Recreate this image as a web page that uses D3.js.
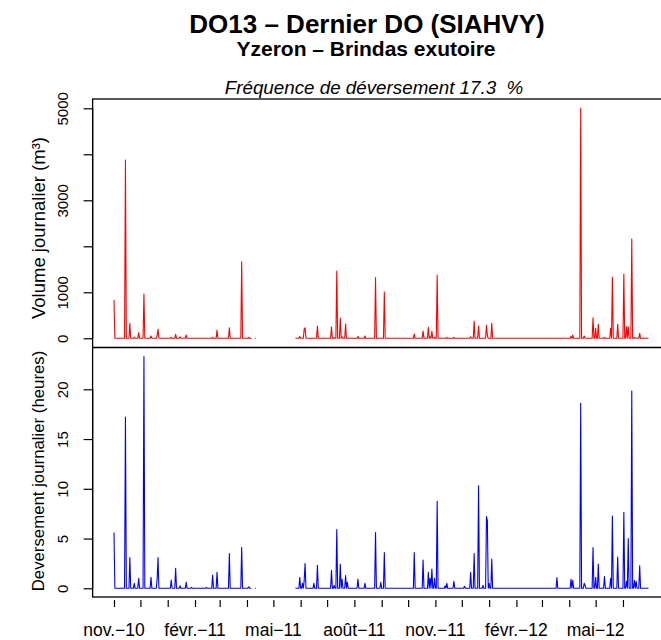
<!DOCTYPE html>
<html>
<head>
<meta charset="utf-8">
<script src="https://cdn.jsdelivr.net/npm/d3@7"></script>
<style>
  html, body { margin: 0; padding: 0; background: #fff; }
  svg { display: block; font-family: "Liberation Sans", Arial, Helvetica, sans-serif; }
</style>
</head>
<body>
<svg id="chart" width="661" height="640"></svg>
<script>
// ---------- DATA ----------
const seriesStart = "2010-11-01";
const seriesEnd   = "2012-06-30";
// periods without measurements (NA)
const missingFrom = ["2011-04-07", "2011-04-12"];
const missingTo   = ["2011-04-09", "2011-05-25"];
// days with overflow (all other days are 0)
const eventDates = [
  "2010-11-01","2010-11-14","2010-11-19","2010-11-24","2010-11-29","2010-12-05","2010-12-13","2010-12-20","2010-12-21",
  "2011-01-05","2011-01-10","2011-01-15","2011-01-22","2011-01-28","2011-02-14","2011-02-21","2011-02-26","2011-03-12",
  "2011-03-26","2011-04-03",
  "2011-05-31","2011-06-03","2011-06-05","2011-06-06","2011-06-16","2011-06-20","2011-07-06","2011-07-09","2011-07-12",
  "2011-07-16","2011-07-18","2011-07-22","2011-07-24","2011-08-05","2011-08-13","2011-08-25","2011-08-31","2011-09-04",
  "2011-10-08","2011-10-18","2011-10-24","2011-10-26","2011-10-28","2011-10-31","2011-11-03","2011-11-12","2011-11-14",
  "2011-11-22","2011-12-04","2011-12-11","2011-12-15","2011-12-20","2011-12-25","2011-12-29","2011-12-30","2012-01-01",
  "2012-01-04","2012-03-18","2012-04-03","2012-04-05","2012-04-14","2012-04-18","2012-04-19","2012-04-28","2012-05-01",
  "2012-05-04","2012-05-11","2012-05-18","2012-05-20","2012-05-26","2012-06-02","2012-06-05","2012-06-07","2012-06-11",
  "2012-06-14","2012-06-16","2012-06-20"
];
// daily volume (m3)
const volumeValues = [
  830,3876,326,20,122,963,50,60,195,
  20,87,30,72,0,0,20,180,230,
  1665,20,
  40,0,200,230,0,267,252,10,1463,
  441,30,311,0,40,50,1318,0,1007,
  93,159,239,30,152,20,1376,0,20,
  20,0,30,376,267,0,282,60,0,
  326,0,40,72,5000,50,0,448,217,
  304,20,217,1326,304,1398,252,252,2159,
  20,0,109
];
// daily overflow duration (hours)
const hoursValues = [
  5.6,17.2,3.1,0.5,1.0,23.3,1.1,0.9,3.1,
  0.83,2.0,0.25,0.6,0.1,0.1,1.34,1.6,3.5,
  4.1,0.15,
  1.1,0.5,0.8,2.5,0.5,2.3,1.8,0.3,5.9,
  2.44,0.9,1.27,0.6,0.93,0.5,5.6,0.6,3.6,
  3.6,2.84,1.6,1.0,1.94,1.0,8.74,0.25,0.5,
  0.7,0.2,1.6,3.5,10.3,0.3,7.2,6.8,0.5,
  2.94,1.07,0.9,0.8,18.6,0.5,0.3,4.1,1.1,
  2.44,1.17,1.0,7.27,3.15,7.64,0.7,5.0,19.83,
  0.8,0.7,2.27
];
const volumeTicks = [0, 1000, 2000, 3000, 4000, 5000];
const volumeTickLabels = ["0", "1000", "", "3000", "", "5000"];
const hoursTicks = [0, 5, 10, 15, 20];
const monthLabels = ["janv.","févr.","mars","avr.","mai","juin","juil.","août","sept.","oct.","nov.","déc."];
const labelledMonths = [1, 4, 7, 10]; // févr., mai, août, nov.

const titleText = "DO13 \u2013 Dernier DO (SIAHVY)";
const subtitleText = "Yzeron \u2013 Brindas exutoire";
const freqText = "Fréquence de déversement 17.3  %";
const yLabelTop = "Volume journalier (m³)";
const yLabelBottom = "Deversement journalier (heures)";

// ---------- BUILD DAILY SERIES ----------
const parse = d3.utcParse("%Y-%m-%d");
const t0 = parse(seriesStart), t1 = parse(seriesEnd);
const days = d3.utcDay.range(t0, d3.utcDay.offset(t1, 1));
const evMap = new Map(eventDates.map((d, i) => [d, i]));
const fmt = d3.utcFormat("%Y-%m-%d");
const gaps = missingFrom.map((d, i) => [parse(d), parse(missingTo[i])]);
const daily = days.map(d => {
  const key = fmt(d);
  const missing = gaps.some(g => d >= g[0] && d <= g[1]);
  const i = evMap.get(key);
  return {
    date: d,
    vol: missing ? null : (i !== undefined ? volumeValues[i] : 0),
    hrs: missing ? null : (i !== undefined ? hoursValues[i] : 0)
  };
});

// ---------- LAYOUT ----------
const svg = d3.select("#chart");
const dataLeft = 114, dataRight = 648.5;
const padX = (dataRight - dataLeft) * 0.04;
const boxLeft = dataLeft - padX, boxRight = dataRight + padX;

const x = d3.scaleUtc().domain([t0, t1]).range([dataLeft, dataRight]);

const topBox = { y0: 99, y1: 347.5 };
const botBox = { y0: 347.5, y1: 597 };

const yTop = d3.scaleLinear().domain([0, 5000]).range([338.3, 108.3]);
const yBot = d3.scaleLinear().domain([0, 20]).range([588.3, 389.3]);

const fontFam = '"Liberation Sans", Arial, Helvetica, sans-serif';

// clip
const defs = svg.append("defs");
defs.append("clipPath").attr("id", "clipTop").append("rect")
  .attr("x", boxLeft).attr("y", topBox.y0).attr("width", boxRight - boxLeft).attr("height", topBox.y1 - topBox.y0);
defs.append("clipPath").attr("id", "clipBot").append("rect")
  .attr("x", boxLeft).attr("y", botBox.y0).attr("width", boxRight - boxLeft).attr("height", botBox.y1 - botBox.y0);

// ---------- LINES ----------
const lineTop = d3.line().defined(d => d.vol !== null).x(d => x(d.date)).y(d => yTop(d.vol));
const lineBot = d3.line().defined(d => d.hrs !== null).x(d => x(d.date)).y(d => yBot(d.hrs));

svg.append("path").datum(daily).attr("clip-path", "url(#clipTop)")
  .attr("d", lineTop).attr("fill", "none").attr("stroke", "#ff0000").attr("stroke-width", 1.1)
  .attr("stroke-linejoin", "round");
svg.append("path").datum(daily).attr("clip-path", "url(#clipBot)")
  .attr("d", lineBot).attr("fill", "none").attr("stroke", "#0000ff").attr("stroke-width", 1.1)
  .attr("stroke-linejoin", "round");

// ---------- BOXES ----------
[topBox, botBox].forEach(b => {
  svg.append("rect").attr("x", boxLeft).attr("y", b.y0)
    .attr("width", boxRight - boxLeft).attr("height", b.y1 - b.y0)
    .attr("fill", "none").attr("stroke", "#000").attr("stroke-width", 1.3);
});

// ---------- Y AXES ----------
const tickLen = 9;
const axTop = d3.axisLeft(yTop).tickValues(volumeTicks).tickSize(tickLen).tickPadding(0)
  .tickFormat((d, i) => volumeTickLabels[i]);
const gTop = svg.append("g").attr("transform", `translate(${boxLeft},0)`).call(axTop);
const axBot = d3.axisLeft(yBot).tickValues(hoursTicks).tickSize(tickLen).tickPadding(0)
  .tickFormat(d3.format("d"));
const gBot = svg.append("g").attr("transform", `translate(${boxLeft},0)`).call(axBot);

[gTop, gBot].forEach(g => {
  g.select(".domain").remove();
  g.selectAll(".tick line").attr("stroke", "#000").attr("stroke-width", 1.2);
  g.selectAll(".tick text")
    .attr("font-family", fontFam).attr("font-size", 15).attr("fill", "#000")
    .attr("x", null).attr("dy", null)
    .attr("text-anchor", "middle")
    .attr("transform", "translate(-25,0) rotate(-90)");
});
svg.append("line").attr("x1", boxLeft).attr("x2", boxLeft)
  .attr("y1", yTop(5000)).attr("y2", yTop(0)).attr("stroke", "#000").attr("stroke-width", 1.3);
svg.append("line").attr("x1", boxLeft).attr("x2", boxLeft)
  .attr("y1", yBot(20)).attr("y2", yBot(0)).attr("stroke", "#000").attr("stroke-width", 1.3);

// ---------- X AXIS ----------
const monthTicks = d3.utcMonth.range(t0, d3.utcDay.offset(t1, 1));
const axX = d3.axisBottom(x).tickValues(monthTicks).tickSize(7).tickPadding(0).tickFormat(() => "");
const gX = svg.append("g").attr("transform", `translate(0,${botBox.y1 + 3})`).call(axX);
gX.select(".domain").remove();
gX.selectAll(".tick line").attr("stroke", "#000").attr("stroke-width", 1.2);
gX.selectAll(".tick text").remove();
svg.append("g").selectAll("text")
  .data(monthTicks.filter(d => labelledMonths.includes(d.getUTCMonth())))
  .join("text")
  .attr("x", d => x(d)).attr("y", 636)
  .attr("text-anchor", "middle")
  .attr("font-family", fontFam).attr("font-size", 17.5).attr("fill", "#000")
  .text(d => monthLabels[d.getUTCMonth()] + "\u2212" + d3.utcFormat("%y")(d));

// ---------- AXIS TITLES ----------
svg.append("text")
  .attr("transform", `translate(45,228) rotate(-90)`)
  .attr("text-anchor", "middle").attr("font-family", fontFam).attr("font-size", 18.5).attr("fill", "#000")
  .text(yLabelTop);
svg.append("text")
  .attr("transform", `translate(44,471) rotate(-90)`)
  .attr("text-anchor", "middle").attr("font-family", fontFam).attr("font-size", 16.8).attr("fill", "#000")
  .text(yLabelBottom);

// ---------- TITLES ----------
svg.append("text").attr("x", 367).attr("y", 33).attr("text-anchor", "middle")
  .attr("font-family", fontFam).attr("font-size", 26).attr("font-weight", "bold").attr("fill", "#000")
  .text(titleText);
svg.append("text").attr("x", 366).attr("y", 56).attr("text-anchor", "middle")
  .attr("font-family", fontFam).attr("font-size", 21).attr("font-weight", "bold").attr("fill", "#000")
  .text(subtitleText);
svg.append("text").attr("x", 374).attr("y", 94).attr("text-anchor", "middle")
  .attr("font-family", fontFam).attr("font-size", 18.8).attr("font-style", "italic").attr("fill", "#000")
  .style("white-space", "pre")
  .text(freqText);
</script>
</body>
</html>
